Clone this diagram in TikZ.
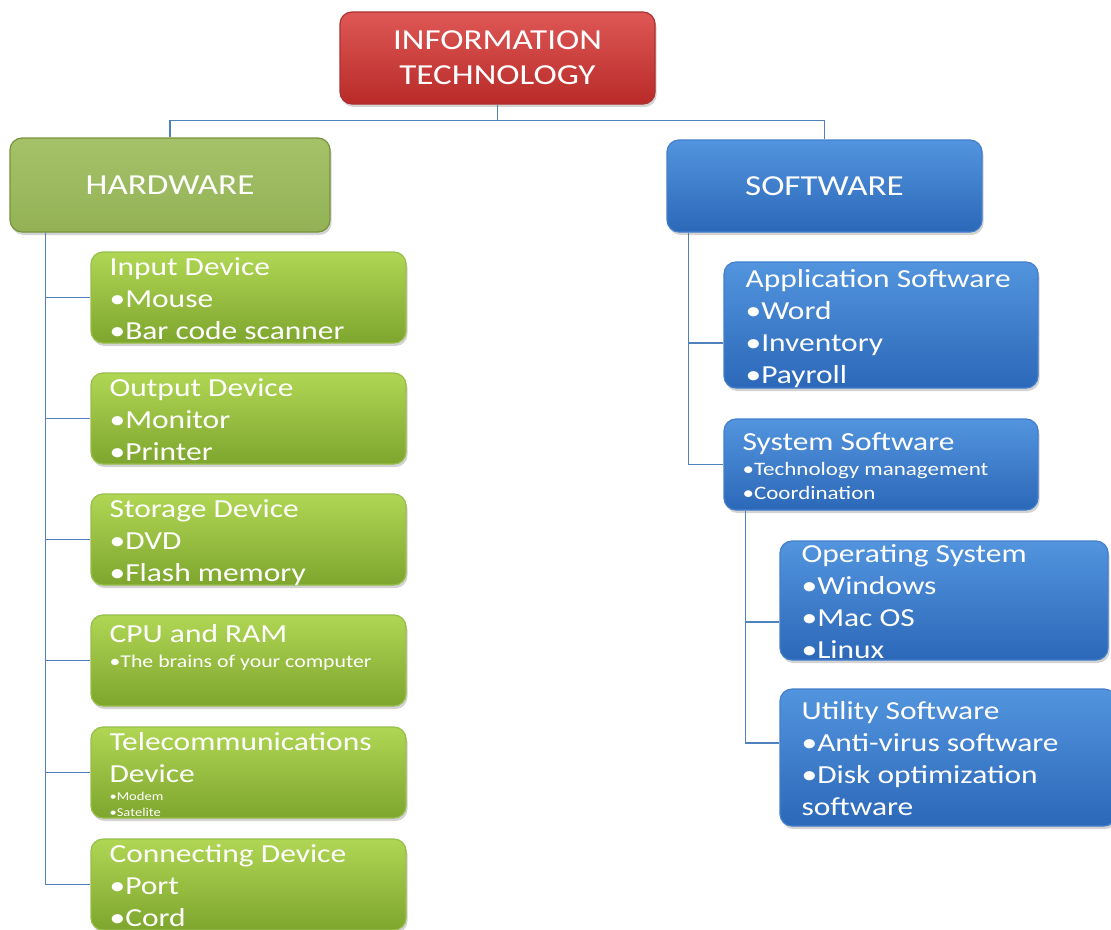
\documentclass[tikz,border=0pt]{standalone}
\usepackage{fontspec}
\setmainfont{Carlito}[FakeStretch=1.21]
\usepackage{tikz}
\usetikzlibrary{
  shadows,
  positioning
}
\definecolor{redtop}{RGB}{222, 88, 86}
\definecolor{redbot}{RGB}{184, 42, 40}
\definecolor{redline}{RGB}{170, 50, 48}
\definecolor{hwfill}{RGB}{155,187, 89}
\definecolor{hwline}{RGB}{118,146, 60}
\definecolor{gtop}{RGB}{176,214, 84}
\definecolor{gbot}{RGB}{126,166, 46}
\definecolor{gline}{RGB}{150,190, 74}
\definecolor{btop}{RGB}{ 82,148,222}
\definecolor{bbot}{RGB}{ 44,104,184}
\definecolor{bline}{RGB}{ 66,126,204}
\definecolor{connclr}{RGB}{ 79,129,189}
\newcommand{\bigtxt}{\fontsize{26}{32}\selectfont}
\newcommand{\midtxt}{\fontsize{19}{24}\selectfont}
\newcommand{\smalltxt}{\fontsize{18}{22}\selectfont}
\newcommand{\tinytxt}{\fontsize{12}{16}\selectfont}
\tikzset{
  % Umumiy quti
  basebox/.style  = {rectangle, rounded corners=12pt, inner sep=0pt, line width=1.2pt,
                     drop shadow={shadow xshift=1.5pt, shadow yshift=-3pt, opacity=0.35}},
  % Bosh va bo'lim qutilari
  itbox/.style    = {basebox, top color=redtop, bottom color=redbot, draw=redline,
                     text=white, align=center, font=\fontsize{29}{35}\selectfont},
  hwbox/.style    = {basebox, top color=hwfill!90!white, bottom color=hwfill!95!black, draw=hwline,
                     text=white, font=\fontsize{29}{35}\selectfont},
  swbox/.style    = {basebox, top color=btop, bottom color=bbot, draw=bline,
                     text=white, font=\fontsize{29}{35}\selectfont},
  % Bola qutilar
  greenbox/.style = {basebox, top color=gtop, bottom color=gbot, draw=gline},
  bluebox/.style  = {basebox, top color=btop, bottom color=bbot, draw=bline},
  % Quti ichidagi matn
  itemtext/.style = {anchor=north west, inner sep=0pt, text=white, text width=330pt,
                     align=flush left, font=\bigtxt},
  % Ulovchi chiziqlar
  conn/.style     = {draw=connclr, line width=1.4pt},
}
\begin{document}
\begin{tikzpicture}[x=1pt, y=-1pt]
  \useasboundingbox (0,0) rectangle (1111,929);
  % Bosh qutilar
  \node[itbox, minimum width=315pt, minimum height=92pt] (it) at (497.5,58)
    {INFORMATION\\TECHNOLOGY};
  \node[hwbox, minimum width=320pt, minimum height=94pt] (hw) at (170,185) {HARDWARE};
  \node[swbox, minimum width=315pt, minimum height=92pt] (sw) at (824.5,186) {SOFTWARE};
  % Hardware bo'limi
  \node[greenbox, minimum width=315pt, minimum height=91pt] (input)   at (248.5,297.5) {};
  \node[greenbox, minimum width=315pt, minimum height=91pt] (output)  at (248.5,418.5) {};
  \node[greenbox, minimum width=315pt, minimum height=91pt] (storage) at (248.5,539.5) {};
  \node[greenbox, minimum width=315pt, minimum height=91pt] (cpu)     at (248.5,660.5) {};
  \node[greenbox, minimum width=315pt, minimum height=91pt] (telecom) at (248.5,772.5) {};
  \node[greenbox, minimum width=315pt, minimum height=91pt] (connect) at (248.5,884.5) {};
  \node[itemtext] (inputtxt) at ([xshift=19pt,yshift=-6pt]input.north west)
    {Input Device\par •Mouse\par •Bar code scanner\par};
  \node[itemtext] (outputtxt) at ([xshift=19pt,yshift=-6pt]output.north west)
    {Output Device\par •Monitor\par •Printer\par};
  \node[itemtext] (storagetxt) at ([xshift=19pt,yshift=-6pt]storage.north west)
    {Storage Device\par •DVD\par •Flash memory\par};
  \node[itemtext] (cputxt) at ([xshift=19pt,yshift=-10pt]cpu.north west)
    {CPU and RAM\par\vspace{3pt}{\smalltxt •The brains of your computer\par}};
  \node[itemtext] (telecomtxt) at ([xshift=19pt,yshift=-6pt]telecom.north west)
    {Telecommunications\par Device\par\vspace{2pt}{\tinytxt •Modem\par •Satelite\par}};
  \node[itemtext] (connecttxt) at ([xshift=19pt,yshift=-6pt]connect.north west)
    {Connecting Device\par •Port\par •Cord\par};
  % Software bo'limi
  \node[bluebox, minimum width=314pt, minimum height=126pt] (app)  at (881,325) {};
  \node[bluebox, minimum width=314pt, minimum height=91pt]  (sys)  at (881,464.5) {};
  \node[bluebox, minimum width=328pt, minimum height=119pt] (os)   at (944,600.5) {};
  \node[bluebox, minimum width=336pt, minimum height=137pt] (util) at (948,757.5) {};
  \node[itemtext] (apptxt) at ([xshift=22pt,yshift=-8pt]app.north west)
    {Application Software\par •Word\par •Inventory\par •Payroll\par};
  \node[itemtext] (systxt) at ([xshift=19pt,yshift=-14pt]sys.north west)
    {System Software\par\vspace{1pt}{\midtxt •Technology management\par •Coordination\par}};
  \node[itemtext] (ostxt) at ([xshift=22pt,yshift=-4pt]os.north west)
    {Operating System\par •Windows\par •Mac OS\par •Linux\par};
  \node[itemtext] (utiltxt) at ([xshift=22pt,yshift=-13pt]util.north west)
    {Utility Software\par •Anti-virus software\par •Disk optimization\par software\par};
  % Ulovchilar
  \draw[conn] (it.south) -- ++(0,16) -| (hw.north);
  \draw[conn] (it.south) -- ++(0,16) -| (sw.north);
  \coordinate (hwroot) at ([xshift=36pt]hw.south west);
  \foreach \kid in {input,output,storage,cpu,telecom,connect}
    \draw[conn] (hwroot) |- (\kid.west);
  \coordinate (swroot) at ([xshift=22pt]sw.south west);
  \draw[conn] (swroot) |- ([yshift=-18pt]app.west);
  \draw[conn] (swroot) |- (sys.west);
  \coordinate (sysroot) at ([xshift=22pt]sys.south west);
  \draw[conn] (sysroot) |- ([yshift=-21.5pt]os.west);
  \draw[conn] (sysroot) |- ([yshift=14.5pt]util.west);
\end{tikzpicture}
\end{document}
